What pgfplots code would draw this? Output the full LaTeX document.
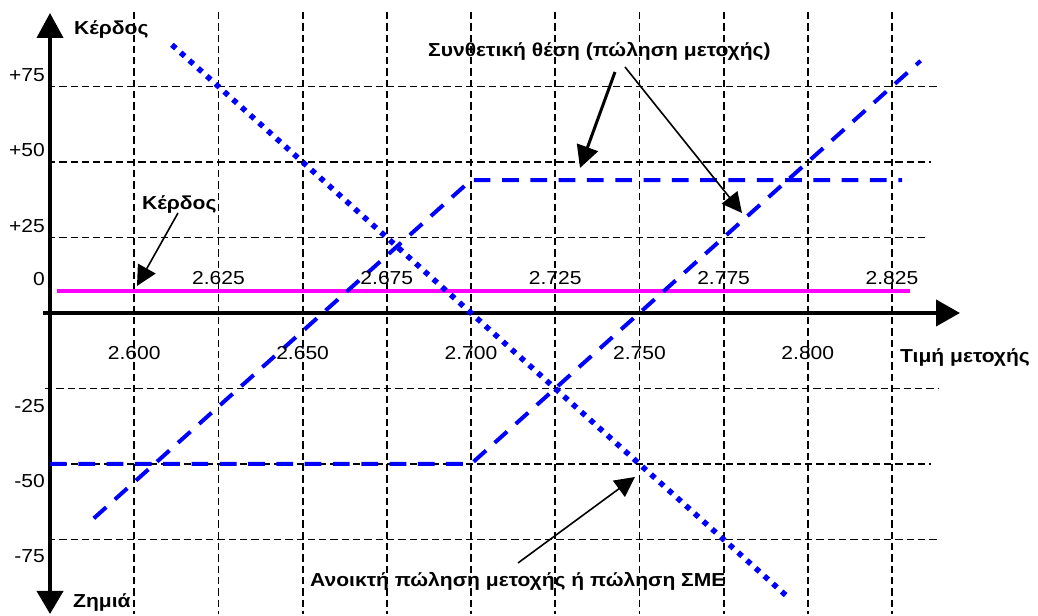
\documentclass[border=0pt]{standalone}
\usepackage{fontspec}
\setmainfont{Liberation Sans}[FakeStretch=1.12]
\usepackage{pgfplots}
\pgfplotsset{compat=1.18}
\usetikzlibrary{arrows.meta}
\definecolor{bl}{RGB}{0,0,255}
\definecolor{mag}{RGB}{255,0,255}
\begin{document}
\begin{tikzpicture}
\begin{axis}[
  width=1038bp, height=614bp, scale only axis,
  xmin=2.56015, xmax=2.86835, ymin=-99.67, ymax=103.64,
  hide axis, clip=false,
]
% grid
\pgfplotsinvokeforeach{2.600,2.625,2.650,2.675,2.700,2.725,2.750,2.775,2.800,2.825}{
  \draw[black, line width=1.8bp, dash pattern=on 7.3bp off 4bp] (axis cs:#1,99.67) -- (axis cs:#1,-99.67);
}
\draw[black, line width=1.8bp, dash pattern=on 7.3bp off 4bp] (axis cs:2.5744,75) -- (axis cs:2.8392,75);
\draw[black, line width=1.8bp, dash pattern=on 7.3bp off 4bp] (axis cs:2.5744,50) -- (axis cs:2.8366,50);
\draw[black, line width=1.8bp, dash pattern=on 7.3bp off 4bp] (axis cs:2.5744,25) -- (axis cs:2.8354,25);
\draw[black, line width=1.8bp, dash pattern=on 7.3bp off 4bp] (axis cs:2.5735,-25) -- (axis cs:2.8387,-25);
\draw[black, line width=1.8bp, dash pattern=on 7.3bp off 4bp] (axis cs:2.5744,-50) -- (axis cs:2.8366,-50);
\draw[black, line width=1.8bp, dash pattern=on 7.3bp off 4bp] (axis cs:2.5744,-75) -- (axis cs:2.8390,-75);
% axes
\draw[line width=4bp, -{Triangle[length=25bp,width=26bp]}] (axis cs:2.575,0) -- (axis cs:2.575,99.34);
\draw[line width=4bp, -{Triangle[length=23bp,width=26bp]}] (axis cs:2.575,0) -- (axis cs:2.575,-99.67);
\draw[line width=4bp, -{Triangle[length=24bp,width=26bp]}] (axis cs:2.573,0) -- (axis cs:2.84519,0);
% data
\addplot[mag, line width=4bp] coordinates {(2.5771,7.28) (2.8303,7.28)};
\addplot[bl, line width=4bp, dash pattern=on 16.7bp off 11.6bp] coordinates {(2.588,-68) (2.700,44) (2.828,44)};
\addplot[bl, line width=4bp, dash pattern=on 16.7bp off 11.6bp] coordinates {(2.575,-50) (2.700,-50) (2.8335,83.5)};
\addplot[bl, line width=5.5bp, dash pattern=on 5.3bp off 6.4bp] coordinates {(2.6112,88.8) (2.7947,-94.7)};
% labels
\begin{scope}[every node/.style={inner sep=0pt, font=\fontsize{18.8bp}{22bp}\selectfont}]
\node[anchor=base west] at (axis cs:2.58212,92.05) {\bfseries Κέρδος};
\node[anchor=base east] at (axis cs:2.57351,76.49) {+75};
\node[anchor=base east] at (axis cs:2.57351,51.66) {+50};
\node[anchor=base east] at (axis cs:2.57351,26.49) {+25};
\node[anchor=base east] at (axis cs:2.57351,8.94) {0};
\node[anchor=base east] at (axis cs:2.57351,-33.11) {-25};
\node[anchor=base east] at (axis cs:2.57351,-57.95) {-50};
\node[anchor=base east] at (axis cs:2.57351,-82.78) {-75};
\pgfplotsinvokeforeach{2.625,2.675,2.725,2.775,2.825}{\node[anchor=base] at (axis cs:#1,9.27) {#1};}
\pgfplotsinvokeforeach{2.600,2.650,2.700,2.750,2.800}{\node[anchor=base] at (axis cs:#1,-15.56) {#1};}
\node[anchor=base west] at (axis cs:2.60231,34.11) {\bfseries Κέρδος};
\node[anchor=base west] at (axis cs:2.82737,-16.56) {\bfseries Τιμή μετοχής};
\node[anchor=base west] at (axis cs:2.68723,84.77) {\bfseries Συνθετική θέση (πώληση μετοχής)};
\node[anchor=base west] at (axis cs:2.65219,-90.73) {\bfseries Ανοικτή πώληση μετοχής ή πώληση ΣΜΕ};
\node[anchor=base west] at (axis cs:2.58182,-97.68) {\bfseries Ζημιά};
\end{scope}
% annotation arrows
\draw[line width=1.6bp, -{Triangle[length=20bp,width=20bp]}] (axis cs:2.61300,33.11) -- (axis cs:2.60083,8.94);
\draw[line width=3bp, -{Triangle[length=22bp,width=22bp]}] (axis cs:2.74275,79.8) -- (axis cs:2.73236,48.01);
\draw[line width=1.6bp, -{Triangle[length=20bp,width=20bp]}] (axis cs:2.74572,81.46) -- (axis cs:2.78046,33.11);
\draw[line width=1.6bp, -{Triangle[length=20bp,width=20bp]}] (axis cs:2.71395,-82.78) -- (axis cs:2.74869,-54.30);
\path (axis cs:2.56015,-99.67) rectangle (axis cs:2.86835,103.64);
\end{axis}
\end{tikzpicture}
\end{document}
